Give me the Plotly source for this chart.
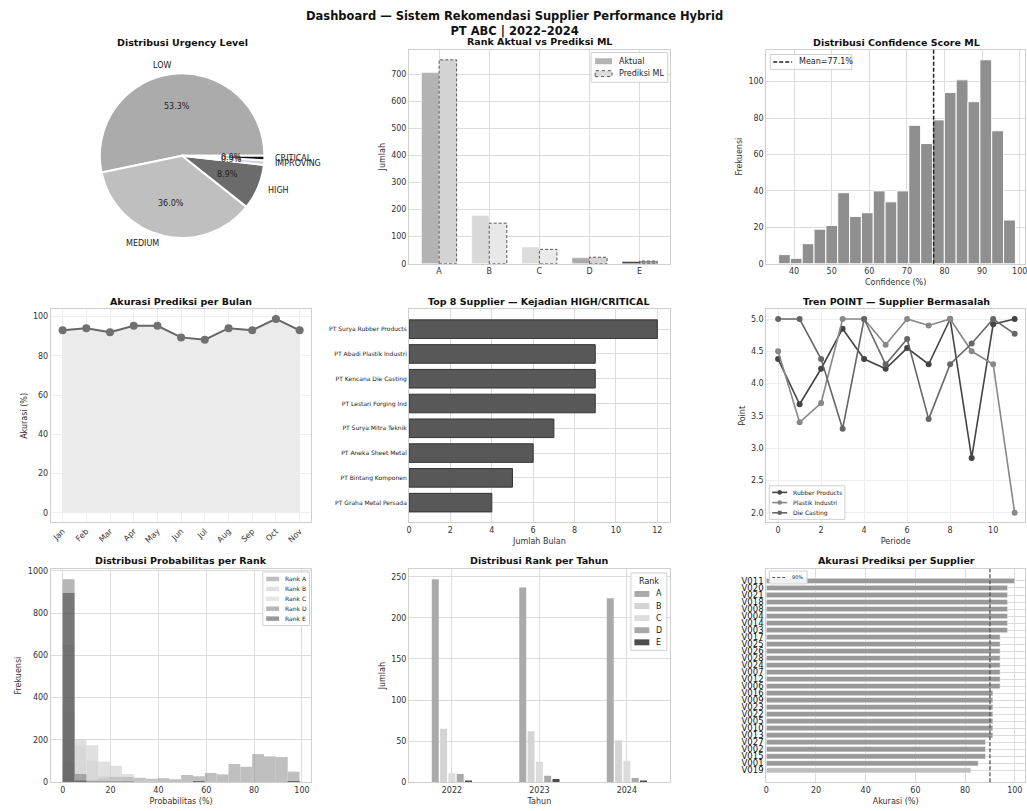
import math
import plotly.graph_objects as go

W, H = 1027, 811
FONT = "DejaVu Sans"

# ---------------- data ----------------
urgency_labels = ["LOW", "MEDIUM", "HIGH", "IMPROVING", "CRITICAL"]
urgency_pct = [53.3, 36.0, 8.9, 0.9, 0.9]
urgency_colors = ["#ababab", "#bfbfbf", "#6b6b6b", "#d2d2d2", "#111111"]

ranks = ["A", "B", "C", "D", "E"]
rank_actual = [707, 178, 62, 22, 8]
rank_pred = [754, 150, 53, 24, 10]
rank_colors_actual = ["#b3b3b3", "#d9d9d9", "#dcdcdc", "#aaaaaa", "#444444"]
rank_colors_pred = ["#d3d3d3", "#e8e8e8", "#eaeaea", "#d4d4d4", "#999999"]

conf_counts = [5, 3, 11, 19, 21, 39, 26, 28, 40, 34, 40, 76, 66, 79, 94, 101, 89, 112, 73, 24]
conf_bin_start = 35.85
conf_bin_width = 3.15
conf_mean = 77.1

months = ["Jan", "Feb", "Mar", "Apr", "May", "Jun", "Jul", "Aug", "Sep", "Oct", "Nov"]
month_acc = [93.0, 94.1, 92.0, 95.3, 95.3, 89.4, 88.2, 94.1, 93.0, 98.8, 93.0]

top_suppliers = ["PT Surya Rubber Products", "PT Abadi Plastik Industri", "PT Kencana Die Casting",
                 "PT Lestari Forging Ind", "PT Surya Mitra Teknik", "PT Aneka Sheet Metal",
                 "PT Bintang Komponen", "PT Graha Metal Persada"]
top_months = [12, 9, 9, 9, 7, 6, 5, 4]

periods = list(range(12))
trend_rubber = [4.38, 3.68, 4.23, 4.85, 4.38, 4.23, 4.55, 4.30, 5.00, 2.85, 4.92, 5.00]
trend_plastik = [4.50, 3.40, 3.70, 5.00, 5.00, 4.60, 5.00, 4.90, 5.00, 4.50, 4.30, 2.00]
trend_diecast = [5.00, 5.00, 4.38, 3.30, 5.00, 4.30, 4.69, 3.45, 4.30, 4.62, 5.00, 4.77]

prob_bin_width = 4.95
prob_rank_a = [95, 5, 12, 20, 25, 25, 20, 16, 19, 14, 34, 28, 44, 37, 86, 73, 133, 122, 119, 50]
prob_rank_b = [330, 203, 175, 97, 78, 39, 22, 12, 6, 4, 3, 2, 2, 1, 1, 0, 0, 0, 0, 0]
prob_rank_c = [650, 172, 102, 31, 12, 6, 3, 1, 0, 0, 0, 0, 0, 0, 0, 0, 0, 0, 0, 0]
prob_rank_d = [960, 39, 3, 2, 1, 1, 0, 0, 0, 0, 0, 1, 0, 0, 0, 0, 0, 0, 0, 2]
prob_rank_e = [895, 8, 0, 0, 0, 0, 0, 0, 0, 0, 0, 2, 0, 0, 0, 0, 0, 0, 0, 6]

years = ["2022", "2023", "2024"]
year_rank_counts = {
    "A": [247, 237, 224],
    "B": [65, 62, 51],
    "C": [11, 25, 26],
    "D": [10, 8, 5],
    "E": [2, 4, 2],
}
year_rank_colors = {"A": "#aaaaaa", "B": "#d4d4d4", "C": "#dcdcdc", "D": "#a8a8a8", "E": "#4d4d4d"}

supplier_ids = ["V011", "V020", "V021", "V018", "V008", "V004", "V014", "V003", "V017", "V025",
                "V026", "V028", "V024", "V007", "V012", "V006", "V016", "V009", "V023", "V022",
                "V005", "V010", "V013", "V027", "V002", "V015", "V001", "V019"]
supplier_acc = [100.0, 97.1, 97.1, 97.1, 97.1, 97.1, 97.1, 97.1, 94.1, 94.1,
                94.1, 94.1, 94.1, 94.1, 94.1, 94.1, 91.2, 91.2, 91.2, 91.2,
                91.2, 91.2, 91.2, 88.2, 88.2, 88.2, 85.3, 82.4]
acc_target = 90


# ---------------- layout helpers ----------------
def px(x):
    return x / W


def py(y):
    return 1 - y / H


def dx(p0, p1):
    return [max(0.0, px(p0)), min(1.0, px(p1))]


def dy(top, bot):
    return [py(bot), py(top)]


COLS = [(48, 310), (408, 670), (767, 1027)]
ROWS = [(48, 264), (310, 525), (572, 787)]

GRID = "#dcdcdc"
GRID_SOFT = "#eeeeee"
FRAME = "#cfcfcf"


def axis(dom, rng, grid=GRID, title=None, **kw):
    d = dict(domain=dom, range=rng, showgrid=True, gridcolor=grid, gridwidth=1,
             showline=True, linecolor=FRAME, linewidth=1, mirror=True, ticks="",
             zeroline=False, tickfont=dict(size=8, color="#333", family=FONT))
    if title:
        d["title"] = dict(text=title, font=dict(size=8, color="#333", family=FONT), standoff=4)
    d.update(kw)
    return d


shapes = []
annotations = []


def legend_box(left, top, width, items, row_h, font_size, sw_w, sw_h=6, pad=2, title=None,
               title_h=0, gap=5):
    """Compact boxed legend drawn with paper-anchored shapes and text."""
    height = 2 * pad + title_h + row_h * len(items)
    shapes.append(dict(type="rect", xref="paper", yref="paper", x0=px(left), x1=px(left + width),
                       y0=py(top + height), y1=py(top), fillcolor="rgba(255,255,255,0.85)",
                       line=dict(color="#d0d0d0", width=1), layer="above"))
    if title:
        annotations.append(dict(x=px(left + width / 2), y=py(top + pad + title_h / 2), xref="paper",
                                yref="paper", text=title, showarrow=False, xanchor="center",
                                yanchor="middle", font=dict(size=font_size, color="#222", family=FONT)))
    for i, it in enumerate(items):
        yc = top + pad + title_h + row_h * (i + 0.5)
        x0 = left + pad + 1.5
        if it["kind"] == "rect":
            shapes.append(dict(type="rect", xref="paper", yref="paper", x0=px(x0), x1=px(x0 + sw_w),
                               y0=py(yc + sw_h / 2), y1=py(yc - sw_h / 2), fillcolor=it["color"],
                               opacity=it.get("opacity", 1),
                               line=dict(color=it.get("edge", it["color"]), width=it.get("edge_w", 0),
                                         dash=it.get("dash", "solid")), layer="above"))
        else:
            shapes.append(dict(type="line", xref="paper", yref="paper", x0=px(x0), x1=px(x0 + sw_w),
                               y0=py(yc), y1=py(yc),
                               line=dict(color=it["color"], width=it.get("width", 1.5),
                                         dash=it.get("dash", "solid")), layer="above"))
            if it.get("marker"):
                m = it["marker"]
                cxm = x0 + sw_w / 2
                shapes.append(dict(type="circle", xref="paper", yref="paper", x0=px(cxm - m),
                                   x1=px(cxm + m), y0=py(yc + m), y1=py(yc - m),
                                   fillcolor=it["color"], line=dict(width=0), layer="above"))
        annotations.append(dict(x=px(x0 + sw_w + gap), y=py(yc), xref="paper", yref="paper",
                                text=it["label"], showarrow=False, xanchor="left", yanchor="middle",
                                font=dict(size=font_size, color="#222", family=FONT)))


fig = go.Figure()

# ---- 1. Pie: urgency (first slice starts at 3 o'clock, counter-clockwise) ----
PIE_CX, PIE_CY, PIE_R = 180, 155, 83
total = sum(urgency_pct)
fig.add_trace(go.Pie(
    labels=urgency_labels, values=urgency_pct, sort=False, direction="counterclockwise",
    rotation=90 - 360 * urgency_pct[0] / total, textinfo="none", showlegend=False,
    marker=dict(colors=urgency_colors, line=dict(color="white", width=2)),
    domain=dict(x=dx(PIE_CX - PIE_R, PIE_CX + PIE_R), y=dy(PIE_CY - PIE_R, PIE_CY + PIE_R)),
))

acc_frac = 0.0
for lab, v in zip(urgency_labels, urgency_pct):
    frac = v / total
    ang = (acc_frac + frac / 2) * 2 * math.pi
    acc_frac += frac
    c, s = math.cos(ang), math.sin(ang)
    lx, ly = PIE_CX + 1.1 * PIE_R * c, PIE_CY - 1.1 * PIE_R * s
    annotations.append(dict(x=px(lx), y=py(ly), xref="paper", yref="paper", text=lab,
                            showarrow=False, xanchor="left" if c >= 0 else "right",
                            yanchor="middle", font=dict(size=8, color="#222", family=FONT)))
    tx, ty = PIE_CX + 0.6 * PIE_R * c, PIE_CY - 0.6 * PIE_R * s
    annotations.append(dict(x=px(tx), y=py(ty), xref="paper", yref="paper",
                            text=f"{v:.1f}%", showarrow=False, xanchor="center",
                            yanchor="middle", font=dict(size=8, color="#222", family=FONT)))

# ---- 2. Rank aktual vs prediksi ----
BW = 0.35
idx = list(range(len(ranks)))
fig.add_trace(go.Bar(x=idx, y=rank_actual, offset=-BW, width=BW, name="Aktual", showlegend=False,
                     marker=dict(color=rank_colors_actual, line=dict(color="white", width=0.5)),
                     xaxis="x", yaxis="y"))
fig.add_trace(go.Bar(x=idx, y=rank_pred, offset=0, width=BW, name="Prediksi ML", showlegend=False,
                     marker=dict(color=rank_colors_pred, line=dict(width=0)),
                     xaxis="x", yaxis="y"))
ox, oy = [], []
for i, v in zip(idx, rank_pred):
    ox += [i, i, i + BW, i + BW, i, None]
    oy += [0, v, v, 0, 0, None]
fig.add_trace(go.Scatter(x=ox, y=oy, mode="lines", showlegend=False, hoverinfo="skip",
                         line=dict(color="#555", width=1, dash="3px,2px"), xaxis="x", yaxis="y"))
legend_box(591, 51, 77, [
    dict(kind="rect", label="Aktual", color=rank_colors_actual[0]),
    dict(kind="rect", label="Prediksi ML", color="#dcdcdc", edge="#555", edge_w=1, dash="dot"),
], row_h=12.5, font_size=8, sw_w=17, sw_h=6, pad=2.5)

# ---- 3. Confidence histogram ----
conf_centers = [conf_bin_start + conf_bin_width * (i + 0.5) for i in range(len(conf_counts))]
fig.add_trace(go.Bar(x=conf_centers, y=conf_counts, width=conf_bin_width, showlegend=False,
                     marker=dict(color="#8f8f8f", line=dict(color="white", width=1)),
                     xaxis="x2", yaxis="y2"))
shapes.append(dict(type="line", xref="x2", yref="y2 domain", x0=conf_mean, x1=conf_mean, y0=0, y1=1,
                   line=dict(color="#222", width=1.5, dash="4px,2px")))
legend_box(771, 53, 82, [
    dict(kind="line", label=f"Mean={conf_mean}%", color="#222", dash="4px,2px", width=1.5),
], row_h=12, font_size=8, sw_w=19, pad=1.5)

# ---- 4. Accuracy per month ----
fig.add_trace(go.Scatter(x=list(range(len(months))), y=month_acc, mode="lines+markers",
                         fill="tozeroy", fillcolor="#ebebeb", showlegend=False,
                         line=dict(color="#666666", width=2),
                         marker=dict(color="#707070", size=8),
                         xaxis="x3", yaxis="y3"))

# ---- 5. Top 8 suppliers ----
fig.add_trace(go.Bar(y=list(range(len(top_suppliers))), x=top_months, orientation="h",
                     width=0.75, showlegend=False,
                     marker=dict(color="#585858", line=dict(color="#333333", width=1)),
                     xaxis="x4", yaxis="y4"))

# ---- 6. Trend POINT ----
trend_series = [("Rubber Products", trend_rubber, "#444444"),
                ("Plastik Industri", trend_plastik, "#888888"),
                ("Die Casting", trend_diecast, "#666666")]
for name, vals, col in trend_series:
    fig.add_trace(go.Scatter(x=periods, y=vals, mode="lines+markers", name=name, showlegend=False,
                             line=dict(color=col, width=1.6), marker=dict(color=col, size=6),
                             xaxis="x5", yaxis="y5"))
legend_box(770, 488, 76, [dict(kind="line", label=n, color=c, width=1.6, marker=2.3)
                          for n, _, c in trend_series],
           row_h=10.3, font_size=6, sw_w=15, pad=1.5, gap=4)

# ---- 7. Probability per rank ----
prob_centers = [prob_bin_width * (i + 0.5) for i in range(len(prob_rank_a))]
prob_series = [("Rank A", prob_rank_a, "#8a8a8a"),
               ("Rank B", prob_rank_b, "#c6c6c6"),
               ("Rank C", prob_rank_c, "#d2d2d2"),
               ("Rank D", prob_rank_d, "#7a7a7a"),
               ("Rank E", prob_rank_e, "#444444")]
for name, vals, col in prob_series:
    fig.add_trace(go.Bar(x=prob_centers, y=vals, width=prob_bin_width, name=name, showlegend=False,
                         opacity=0.55, marker=dict(color=col, line=dict(width=0)),
                         xaxis="x6", yaxis="y6"))
legend_box(261, 575, 47, [dict(kind="rect", label=n, color=c, opacity=0.55)
                          for n, _, c in prob_series],
           row_h=10, font_size=6, sw_w=13, sw_h=4.5, pad=2, gap=4)

# ---- 8. Rank per year ----
YB_W, YB_STEP = 0.08, 0.095
for k, rk in enumerate(ranks):
    fig.add_trace(go.Bar(x=list(range(len(years))), y=year_rank_counts[rk], name=rk, showlegend=False,
                         offset=-2.5 * YB_STEP + k * YB_STEP + (YB_STEP - YB_W) / 2, width=YB_W,
                         marker=dict(color=year_rank_colors[rk], line=dict(width=0)),
                         xaxis="x7", yaxis="y7"))
legend_box(631, 576, 36, [dict(kind="rect", label=rk, color=year_rank_colors[rk]) for rk in ranks],
           row_h=12.2, font_size=8, sw_w=15, sw_h=6, pad=2, title="Rank", title_h=13, gap=5)

# ---- 9. Accuracy per supplier ----
sup_colors = ["#bdbdbd" if a < 85 else "#999999" for a in supplier_acc]
fig.add_trace(go.Bar(y=list(range(len(supplier_ids))), x=supplier_acc, orientation="h",
                     width=0.75, showlegend=False,
                     marker=dict(color=sup_colors, line=dict(color="white", width=0.5)),
                     xaxis="x8", yaxis="y8"))
shapes.append(dict(type="line", xref="x8", yref="y8 domain", x0=acc_target, x1=acc_target, y0=0, y1=1,
                   line=dict(color="#555", width=1.3, dash="4px,2px")))
legend_box(770, 574, 38, [dict(kind="line", label=f"{acc_target}%", color="#555", dash="3px,2px", width=1.2)],
           row_h=10, font_size=5, sw_w=13, pad=1.5, gap=5)

# ---- titles ----
annotations.append(dict(x=0.5, y=py(21.5), xref="paper", yref="paper",
                        text="<b>Dashboard — Sistem Rekomendasi Supplier Performance Hybrid<br>PT ABC | 2022–2024</b>",
                        showarrow=False, xanchor="center", yanchor="middle",
                        font=dict(size=11.5, color="#111", family=FONT)))
titles = [
    ("Distribusi Urgency Level", 180, 41),
    ("Rank Aktual vs Prediksi ML", 539, 40),
    ("Distribusi Confidence Score ML", 898, 41),
    ("Akurasi Prediksi per Bulan", 179, 302),
    ("Top 8 Supplier — Kejadian HIGH/CRITICAL", 539, 302),
    ("Tren POINT — Supplier Bermasalah", 898, 302),
    ("Distribusi Probabilitas per Rank", 179, 563),
    ("Distribusi Rank per Tahun", 539, 563),
    ("Akurasi Prediksi per Supplier", 898, 563),
]
for t, x, y in titles:
    annotations.append(dict(x=px(x), y=py(y), xref="paper", yref="paper", text=f"<b>{t}</b>",
                            showarrow=False, xanchor="center", yanchor="middle",
                            font=dict(size=9.5, color="#111", family=FONT)))

fig.update_layout(
    width=W, height=H, margin=dict(l=0, r=0, t=0, b=0),
    paper_bgcolor="white", plot_bgcolor="white",
    font=dict(family=FONT, size=8, color="#333"),
    barmode="overlay", showlegend=False,
    annotations=annotations,
    shapes=shapes,
    # rank actual vs predicted
    xaxis=axis(dx(*COLS[1]), [-0.6, 4.6], tickmode="array", tickvals=idx, ticktext=ranks),
    yaxis=axis(dy(*ROWS[0]), [0, 792], title="Jumlah", tickvals=[0, 100, 200, 300, 400, 500, 600, 700]),
    # confidence
    xaxis2=axis(dx(*COLS[2]), [32.6, 101.4], title="Confidence (%)", tickvals=[40, 50, 60, 70, 80, 90, 100],
                ticklabeloverflow="allow"),
    yaxis2=axis(dy(*ROWS[0]), [0, 117.6], title="Frekuensi", anchor="x2", tickvals=[0, 20, 40, 60, 80, 100]),
    # month accuracy
    xaxis3=axis(dx(*COLS[0]), [-0.5, 10.5], grid=GRID_SOFT, tickmode="array",
                tickvals=list(range(len(months))), ticktext=months, tickangle=-45, anchor="y3"),
    yaxis3=axis(dy(*ROWS[1]), [-4.94, 103.7], grid=GRID_SOFT, title="Akurasi (%)", anchor="x3",
                tickvals=[0, 20, 40, 60, 80, 100]),
    # top 8
    xaxis4=axis(dx(*COLS[1]), [0, 12.6], title="Jumlah Bulan", anchor="y4", tickvals=[0, 2, 4, 6, 8, 10, 12]),
    yaxis4=axis(dy(*ROWS[1]), [7.8, -0.8], anchor="x4", tickmode="array",
                tickvals=list(range(len(top_suppliers))), ticktext=top_suppliers,
                tickfont=dict(size=6, color="#222", family=FONT)),
    # trend
    xaxis5=axis(dx(*COLS[2]), [-0.55, 11.48], grid=GRID_SOFT, title="Periode", anchor="y5",
                tickvals=[0, 2, 4, 6, 8, 10]),
    yaxis5=axis(dy(*ROWS[1]), [1.85, 5.15], grid=GRID_SOFT, title="Point", anchor="x5",
                tickvals=[2.0, 2.5, 3.0, 3.5, 4.0, 4.5, 5.0], tickformat=".1f"),
    # probability per rank
    xaxis6=axis(dx(*COLS[0]), [-5, 104], title="Probabilitas (%)", anchor="y6",
                tickvals=[0, 20, 40, 60, 80, 100]),
    yaxis6=axis(dy(*ROWS[2]), [0, 1008], title="Frekuensi", anchor="x6",
                tickvals=[0, 200, 400, 600, 800, 1000]),
    # rank per year
    xaxis7=axis(dx(*COLS[1]), [-0.49, 2.49], title="Tahun", anchor="y7", tickmode="array",
                tickvals=list(range(len(years))), ticktext=years),
    yaxis7=axis(dy(*ROWS[2]), [0, 259.4], title="Jumlah", anchor="x7",
                tickvals=[0, 50, 100, 150, 200, 250]),
    # supplier accuracy
    xaxis8=axis(dx(*COLS[2]), [0, 104.1], title="Akurasi (%)", anchor="y8",
                tickvals=[0, 20, 40, 60, 80, 100], ticklabeloverflow="allow"),
    yaxis8=axis(dy(*ROWS[2]), [28.7, -1.7], anchor="x8", tickmode="array",
                tickvals=list(range(len(supplier_ids))), ticktext=supplier_ids,
                tickfont=dict(size=8.5, color="#111", family=FONT)),
)

fig.write_html("out.html")
